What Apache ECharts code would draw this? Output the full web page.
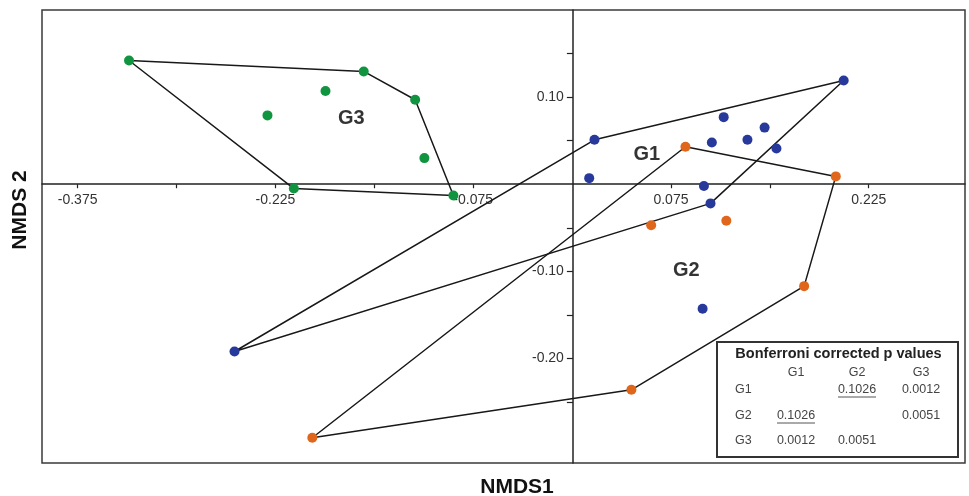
<!DOCTYPE html>
<html>
<head>
<meta charset="utf-8">
<script src="https://cdn.jsdelivr.net/npm/echarts@6/dist/echarts.min.js"></script>
<style>
html,body{margin:0;padding:0;background:#fff;}
#chart{width:969px;height:496px;}
</style>
</head>
<body>
<div id="chart"></div>
<script>
// ---- data ----
const g1X = [0.206, 0.017, 0.013, 0.115, 0.106, 0.133, 0.146, 0.155, 0.100, 0.105, 0.099, -0.256];
const g1Y = [0.119, 0.051, 0.007, 0.077, 0.048, 0.051, 0.065, 0.041, -0.002, -0.022, -0.143, -0.192];
const g1Hull = [0, 1, 11, 9, 0];

const g2X = [0.086, 0.200, 0.060, 0.117, 0.176, 0.045, -0.197];
const g2Y = [0.043, 0.009, -0.047, -0.042, -0.117, -0.236, -0.291];
const g2Hull = [0, 1, 4, 5, 6, 0];

const g3X = [-0.336, -0.158, -0.187, -0.231, -0.119, -0.112, -0.211, -0.090];
const g3Y = [0.142, 0.1295, 0.107, 0.079, 0.097, 0.030, -0.005, -0.013];
const g3Hull = [0, 1, 4, 7, 6, 0];

const groupNames = ['G1', 'G2', 'G3'];
const groupLabelX = [0.057, 0.087, -0.167];
const groupLabelY = [0.034, -0.100, 0.075];

const xTicks = [-0.375, -0.3, -0.225, -0.15, -0.075, 0.075, 0.15, 0.225];
const xTickLabels = [-0.375, -0.225, -0.075, 0.075, 0.225];
const yTicks = [-0.25, -0.2, -0.15, -0.1, -0.05, 0.05, 0.1, 0.15];
const yTickLabels = [-0.2, -0.1, 0.1];

const tableTitle = 'Bonferroni corrected p values';
const tableNames = ['G1', 'G2', 'G3'];
const tableValues = [
  ['', '0.1026', '0.0012'],
  ['0.1026', '', '0.0051'],
  ['0.0012', '0.0051', '']
];
const tableUnderlined = [[0, 1], [1, 0]];

// ---- build ----
const colors = ['#27399b', '#e0661c', '#10943f'];
const xs = [g1X, g2X, g3X];
const ys = [g1Y, g2Y, g3Y];
const hulls = [g1Hull, g2Hull, g3Hull];

const series = [];
for (let g = 0; g < 3; g++) {
  series.push({
    type: 'line',
    data: hulls[g].map(i => [xs[g][i], ys[g][i]]),
    symbol: 'none',
    lineStyle: { color: '#181818', width: 1.5 },
    silent: true, z: 2, animation: false
  });
}
for (let g = 0; g < 3; g++) {
  series.push({
    type: 'scatter',
    data: xs[g].map((x, i) => [x, ys[g][i]]),
    symbolSize: 10,
    itemStyle: { color: colors[g], opacity: 1 },
    z: 5, animation: false
  });
}
series.push({
  type: 'scatter',
  data: groupNames.map((n, i) => ({ value: [groupLabelX[i], groupLabelY[i]], name: n })),
  symbolSize: 1,
  itemStyle: { color: 'rgba(0,0,0,0)' },
  label: {
    show: true, position: [0, 0], align: 'center', verticalAlign: 'middle',
    formatter: p => p.name,
    fontFamily: 'Liberation Sans, Arial', fontWeight: 'bold', fontSize: 20, color: '#000',
    textBorderWidth: 0
  },
  silent: true, z: 6, animation: false
});

// table graphics
const tLeft = 717, tTop = 342, tW = 241, tH = 115;
const colX = [796, 857, 921];
const rowY = [390, 416, 441];
const tableEls = [];
tableEls.push({ type: 'rect', shape: { x: tLeft, y: tTop, width: tW, height: tH },
  style: { fill: '#fff', stroke: '#333', lineWidth: 2 }, z: 100 });
tableEls.push({ type: 'text', x: (tLeft + tW / 2) + 1, y: 354, z: 101,
  style: { text: tableTitle, fontFamily: 'Liberation Sans, Arial', fontWeight: 'bold', fontSize: 14.5,
    fill: '#222', align: 'center', verticalAlign: 'middle' } });
tableNames.forEach((n, j) => {
  tableEls.push({ type: 'text', x: colX[j], y: 373, z: 101,
    style: { text: n, fontFamily: 'Liberation Sans, Arial', fontSize: 12.5, fill: '#444',
      align: 'center', verticalAlign: 'middle' } });
});
tableNames.forEach((n, i) => {
  tableEls.push({ type: 'text', x: 735, y: rowY[i], z: 101,
    style: { text: n, fontFamily: 'Liberation Sans, Arial', fontSize: 12.5, fill: '#444',
      align: 'left', verticalAlign: 'middle' } });
  tableValues[i].forEach((v, j) => {
    if (!v) return;
    tableEls.push({ type: 'text', x: colX[j], y: rowY[i], z: 101,
      style: { text: v, fontFamily: 'Liberation Sans, Arial', fontSize: 12.5, fill: '#444',
        align: 'center', verticalAlign: 'middle' } });
  });
});
tableUnderlined.forEach(([i, j]) => {
  tableEls.push({ type: 'line', z: 101,
    shape: { x1: colX[j] - 19, y1: rowY[i] + 7, x2: colX[j] + 19, y2: rowY[i] + 7 },
    style: { stroke: '#555', lineWidth: 1 } });
});

const gridLeft = 42, gridTop = 10, gridW = 923, gridH = 453;
const chart = echarts.init(document.getElementById('chart'), null, { renderer: 'canvas' });
chart.setOption({
  animation: false,
  backgroundColor: '#fff',
  grid: { left: gridLeft, top: gridTop, width: gridW, height: gridH, show: true,
    borderColor: '#3a3a3a', borderWidth: 1.5, backgroundColor: 'transparent' },
  xAxis: {
    type: 'value', min: -0.402, max: 0.298, position: 'bottom',
    axisLine: { onZero: false, lineStyle: { color: '#222', width: 1.5 } },
    axisTick: { show: true, customValues: xTicks, length: 4, lineStyle: { color: '#222', width: 1.2 } },
    axisLabel: { customValues: xTickLabels, formatter: v => v.toFixed(3), margin: 9,
      fontFamily: 'Liberation Sans, Arial', fontSize: 14, color: '#333' },
    splitLine: { show: false }
  },
  yAxis: {
    type: 'value', min: -0.32, max: 0.2, position: 'left',
    axisLine: { onZero: false, lineStyle: { color: '#222', width: 1.5 } },
    axisTick: { show: true, customValues: yTicks, length: 6, lineStyle: { color: '#222', width: 1.2 } },
    axisLabel: { customValues: yTickLabels, formatter: v => v.toFixed(2), margin: 9,
      fontFamily: 'Liberation Sans, Arial', fontSize: 14, color: '#333' },
    splitLine: { show: false }
  },
  series: series,
  graphic: [
    { type: 'text', x: 20, y: 210, rotation: Math.PI / 2, z: 50,
      style: { text: 'NMDS 2', fontFamily: 'Liberation Sans, Arial', fontWeight: 'bold', fontSize: 21,
        fill: '#111', align: 'center', verticalAlign: 'middle' } },
    { type: 'text', x: 517, y: 487, z: 50,
      style: { text: 'NMDS1', fontFamily: 'Liberation Sans, Arial', fontWeight: 'bold', fontSize: 21,
        fill: '#111', align: 'center', verticalAlign: 'middle' } },
    { type: 'group', children: tableEls }
  ]
});
// move both axes (line, ticks, labels) to cross at the origin
const origin = chart.convertToPixel({ gridIndex: 0 }, [0, 0]);
chart.setOption({
  xAxis: { offset: origin[1] - (gridTop + gridH) },
  yAxis: { offset: gridLeft - origin[0] }
});
</script>
</body>
</html>
